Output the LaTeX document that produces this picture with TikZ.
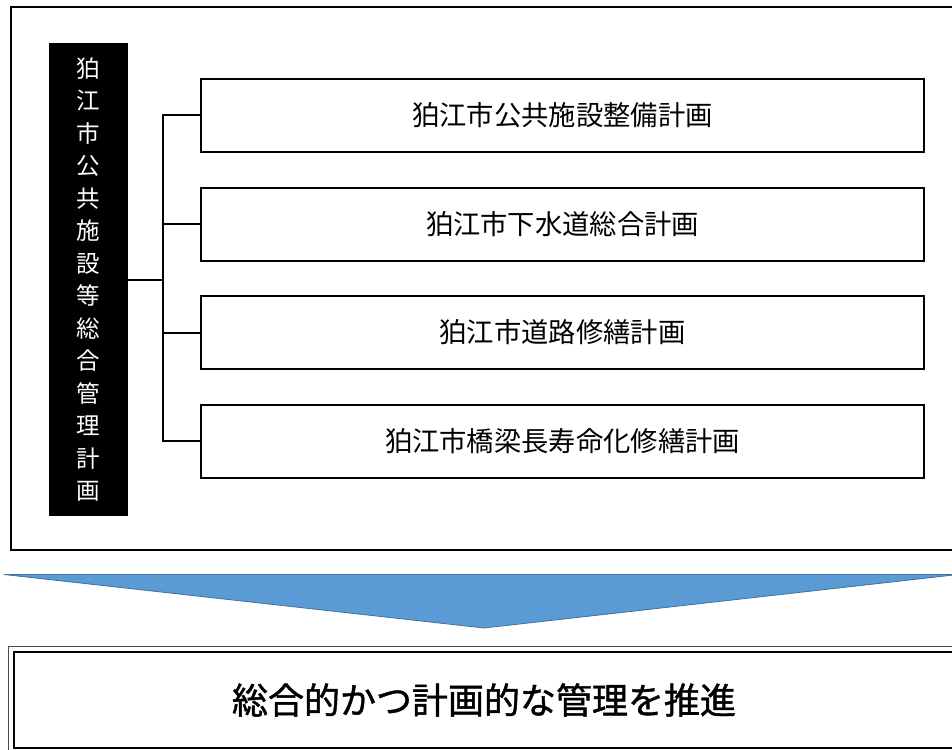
\documentclass[tikz,border=0pt]{standalone}
\usepackage{xcolor}
\usepackage{fontspec}
\usepackage{tikz}
\usetikzlibrary{positioning,calc}
\newfontfamily\jp{Noto Sans CJK JP}
\newfontfamily\jpbold[FakeBold=1.2]{Noto Sans CJK JP}
\definecolor{arrowblue}{RGB}{91,155,213}
\definecolor{arrowedge}{RGB}{65,113,156}
\tikzset{
	planbox/.style={draw, line width=2pt, minimum width=723pt, minimum height=73pt, inner sep=0pt, font=\jp\fontsize{27.3}{30}\selectfont},
	link/.style={line width=2pt}
}

\begin{document}
\begin{tikzpicture}[x=1pt, y=-1pt]
					\useasboundingbox (0,0) rectangle (952,749);
					\clip (0,0) rectangle (952,749);
					\fill[white] (0,0) rectangle (952,749);
					\draw[line width=2pt] (11,7) rectangle (962,550);
					\node[fill=black, text=white, minimum width=79pt, minimum height=473pt, inner sep=0pt, align=center, font=\jp\fontsize{23.5}{32.5}\selectfont] (lead) at (88.5,279.5) {狛\\江\\市\\公\\共\\施\\設\\等\\総\\合\\管\\理\\計\\画};
					\node[planbox] (p1) at (562.5,115.5) {狛江市公共施設整備計画};
					\node[planbox] (p2) at (562.5,224) {狛江市下水道総合計画};
					\node[planbox] (p3) at (562.5,332.5) {狛江市道路修繕計画};
					\node[planbox] (p4) at (562.5,441) {狛江市橋梁長寿命化修繕計画};
					\coordinate (jn) at (163,279.5);
					\draw[link] (lead.east) -- (jn);
					\foreach \p in {p1,p2,p3,p4}
						\draw[link] (jn) |- (\p.west);
					\filldraw[fill=arrowblue, draw=arrowedge, line width=0.8pt] (4,574.5) -- (958,574.5) -- (484,628) -- cycle;
					\node[draw, line width=2.5pt, minimum width=940pt, minimum height=96pt, inner sep=0pt, font=\jpbold\fontsize{36}{40}\selectfont] (goal) at (484,700) {総合的かつ計画的な管理を推進};
					\draw[line width=1pt, black!70] ([shift={(-4,-4.5)}]goal.north west) rectangle ([shift={(4,4.5)}]goal.south east);
				\end{tikzpicture}
\end{document}
